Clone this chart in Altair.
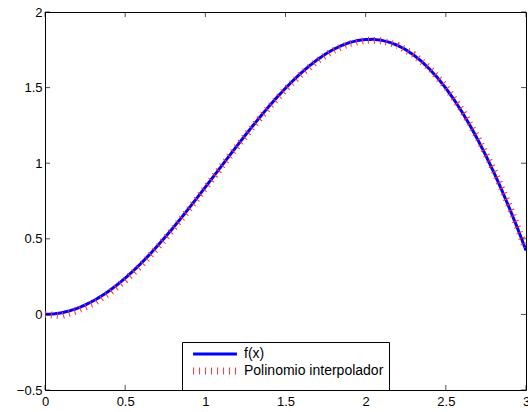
import altair as alt
import pandas as pd

# f(x) samples
x_f = [0.00, 0.05, 0.10, 0.15, 0.20, 0.25, 0.30, 0.35, 0.40, 0.45, 0.50, 0.55, 0.60, 0.65, 0.70,
       0.75, 0.80, 0.85, 0.90, 0.95, 1.00, 1.05, 1.10, 1.15, 1.20, 1.25, 1.30, 1.35, 1.40, 1.45,
       1.50, 1.55, 1.60, 1.65, 1.70, 1.75, 1.80, 1.85, 1.90, 1.95, 2.00, 2.05, 2.10, 2.15, 2.20,
       2.25, 2.30, 2.35, 2.40, 2.45, 2.50, 2.55, 2.60, 2.65, 2.70, 2.75, 2.80, 2.85, 2.90, 2.95, 3.00]
y_f = [0.0000, 0.0025, 0.0100, 0.0224, 0.0397, 0.0619, 0.0887, 0.1200, 0.1558, 0.1957, 0.2397,
       0.2875, 0.3388, 0.3934, 0.4510, 0.5112, 0.5739, 0.6386, 0.7050, 0.7727, 0.8415, 0.9108,
       0.9803, 1.0497, 1.1184, 1.1862, 1.2526, 1.3172, 1.3796, 1.4394, 1.4962, 1.5497, 1.5993,
       1.6448, 1.6858, 1.7220, 1.7529, 1.7784, 1.7980, 1.8115, 1.8186, 1.8191, 1.8127, 1.7993,
       1.7787, 1.7507, 1.7151, 1.6720, 1.6211, 1.5625, 1.4962, 1.4221, 1.3403, 1.2509, 1.1539,
       1.0496, 0.9380, 0.8193, 0.6938, 0.5617, 0.4234]

# interpolating polynomial samples
x_p = [0.0, 0.1, 0.2, 0.3, 0.4, 0.5, 0.6, 0.7, 0.8, 0.9, 1.0, 1.1, 1.2, 1.3, 1.4, 1.5,
       1.6, 1.7, 1.8, 1.9, 2.0, 2.1, 2.2, 2.3, 2.4, 2.5, 2.6, 2.7, 2.8, 2.9, 3.0]
y_p = [0.000, -0.010, 0.025, 0.072, 0.140, 0.225, 0.325, 0.440, 0.565, 0.698, 0.836,
       0.975, 1.113, 1.247, 1.373, 1.489, 1.592, 1.679, 1.746, 1.792, 1.813, 1.810,
       1.779, 1.718, 1.627, 1.505, 1.352, 1.167, 0.952, 0.707, 0.432]

series = ["f(x)", "Polinomio interpolador"]
x_ticks = [0, 0.5, 1, 1.5, 2, 2.5, 3]
y_ticks = [-0.5, 0, 0.5, 1, 1.5, 2]

rows = [{"x": a, "y": b, "s": series[0], "k": 0} for a, b in zip(x_f, y_f)]
rows += [{"x": a, "y": b, "s": series[1], "k": 1} for a, b in zip(x_p, y_p)]
df = pd.DataFrame(rows)
df_xt = pd.DataFrame({"v": x_ticks})
df_yt = pd.DataFrame({"v": y_ticks})

FONT = "Liberation Sans"
xs = alt.Scale(domain=[0, 3], nice=False, zero=False)
ys = alt.Scale(domain=[-0.5, 2], nice=False, zero=False)

xaxis = alt.Axis(values=x_ticks, format="~g", title=None, grid=False, ticks=False, domain=False,
                 labelFlush=False, labelOverlap=False, labelPadding=5, labelFontSize=13,
                 labelFont=FONT, labelColor="black")
yaxis = alt.Axis(values=y_ticks, format="~g", title=None, grid=False, ticks=False, domain=False,
                 labelFlush=False, labelOverlap=False, labelPadding=3, labelFontSize=13,
                 labelFont=FONT, labelColor="black")

lines = alt.Chart(df).mark_line(strokeCap="butt", clip=True).encode(
    x=alt.X("x:Q", scale=xs, axis=xaxis),
    y=alt.Y("y:Q", scale=ys, axis=yaxis),
    detail="k:N",
    color=alt.Color("s:N", scale=alt.Scale(domain=series, range=["#0000ff", "#ff3030"]),
                    legend=alt.Legend(title=None, orient="none", legendX=137, legendY=330,
                                      symbolType="M-5,0L5,0", symbolSize=77, symbolOffset=20,
                                      labelFont=FONT, labelFontSize=14, labelColor="black",
                                      labelOffset=21, rowPadding=-4, padding=5,
                                      strokeColor="black", fillColor="white")),
    strokeDash=alt.StrokeDash("s:N", scale=alt.Scale(domain=series, range=[[1, 0], [1, 5]]),
                              legend=alt.Legend(title=None)),
    strokeWidth=alt.StrokeWidth("s:N", scale=alt.Scale(domain=series, range=[3, 7]),
                                legend=alt.Legend(title=None)),
    order="k:Q",
)

def xtick(yv, off):
    return alt.Chart(df_xt).mark_tick(orient="vertical", size=5, thickness=1, color="black",
                                      yOffset=off).encode(
        x=alt.X("v:Q", scale=xs), y=alt.datum(yv))

def ytick(xv, off):
    return alt.Chart(df_yt).mark_tick(orient="horizontal", size=5, thickness=1, color="black",
                                      xOffset=off).encode(
        y=alt.Y("v:Q", scale=ys), x=alt.datum(xv))

chart = alt.layer(
    lines,
    xtick(-0.5, -2.5), xtick(2, 2.5), ytick(0, 2.5), ytick(3, -2.5),
).properties(
    width=481, height=378,
    autosize=alt.AutoSizeParams(type="none"),
    padding={"left": 45, "top": 12, "right": 2, "bottom": 22},
    background="white",
).configure_view(stroke="black", strokeWidth=1)

chart.save("out.html", embed_options={"renderer": "svg", "actions": False})
